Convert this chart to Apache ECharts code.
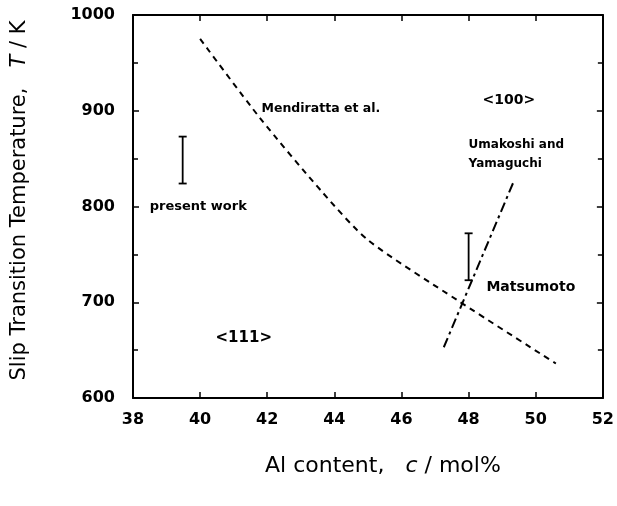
<!DOCTYPE html>
<html><head><meta charset="utf-8">
<script src="https://cdn.jsdelivr.net/npm/echarts@6/dist/echarts.min.js"></script>
<style>html,body{margin:0;padding:0;background:#fff}#c{width:617px;height:506px}</style>
</head><body><div id="c"></div>
<script>
// Data
const mendirattaX = [40.0, 41.77, 43.64, 45.0, 47.67, 50.6];
const mendirattaY = [975, 893, 815, 765, 702, 636];
const umakoshiX = [47.26, 49.33];
const umakoshiY = [653, 825];
// error bars: x, low, high
const errX = [39.48, 48.0];
const errLow = [824, 723];
const errHigh = [873, 772];
// annotations
const noteText = ['Mendiratta et al.', '<100>', 'Umakoshi and', 'Yamaguchi', 'present work', 'Matsumoto', '<111>'];
const noteX = [41.83, 49.2, 48.0, 48.0, 38.5, 48.53, 41.3];
const noteY = [902, 911, 864, 845, 800, 716, 663];
const noteAlign = ['left', 'center', 'left', 'left', 'left', 'left', 'center'];
const noteSize = [12.5, 14, 12, 12, 13, 14, 15];
const xTicks = [38, 40, 42, 44, 46, 48, 50, 52];
const yTicks = [600, 700, 800, 900, 1000];

const FONT = 'DejaVu Sans';
const chart = echarts.init(document.getElementById('c'), null, {renderer: 'canvas'});
const axisCommon = {
  axisLine: {lineStyle: {color: '#000', width: 2}},
  axisTick: {inside: true, length: 6, lineStyle: {color: '#000', width: 1.5}},
  splitLine: {show: false}
};
const mline = mendirattaX.map((x, i) => [x, mendirattaY[i]]);
const uline = umakoshiX.map((x, i) => [x, umakoshiY[i]]);
const errData = errX.map((x, i) => [x, errLow[i], errHigh[i]]);
const notes = noteText.map((t, i) => ({
  value: [noteX[i], noteY[i]],
  label: {show: true, formatter: t, align: noteAlign[i], verticalAlign: 'middle', position: 'inside',
          fontSize: noteSize[i], fontFamily: FONT, fontWeight: 'bold', color: '#000'}
}));

chart.setOption({
  animation: false,
  backgroundColor: '#fff',
  grid: {left: 133, top: 15, right: 11, bottom: 108},
  xAxis: [
    Object.assign({type: 'value', min: xTicks[0], max: xTicks[xTicks.length - 1], interval: 2,
      name: '{n|Al content,   }{i|c}{n| / mol%}', nameLocation: 'middle', nameGap: 57,
      nameTextStyle: {padding: [0, 0, 0, 30], rich: {
        n: {fontSize: 22, fontFamily: FONT, color: '#000'},
        i: {fontSize: 22, fontFamily: FONT, fontStyle: 'italic', color: '#000'}}},
      axisLabel: {margin: 14, fontSize: 16, fontWeight: 'bold', fontFamily: FONT, color: '#000',
        formatter: v => String(v)}}, axisCommon),
    Object.assign({type: 'value', position: 'top', min: 38, max: 52, interval: 2,
      axisLabel: {show: false}}, axisCommon)
  ],
  yAxis: [
    Object.assign({type: 'value', min: yTicks[0], max: yTicks[yTicks.length - 1], interval: 100,
      name: '{n|Slip Transition Temperature,   }{i|T}{n| / K}', nameLocation: 'middle', nameGap: 103,
      nameTextStyle: {padding: [0, 0, 0, 12], rich: {
        n: {fontSize: 21, fontFamily: FONT, color: '#000'},
        i: {fontSize: 21, fontFamily: FONT, fontStyle: 'italic', color: '#000'}}},
      minorTick: {show: true, splitNumber: 2, length: 5, lineStyle: {color: '#000', width: 1.5}},
      axisLabel: {margin: 18, fontSize: 16, fontWeight: 'bold', fontFamily: FONT, color: '#000',
        formatter: v => String(v)}}, axisCommon),
    Object.assign({type: 'value', position: 'right', min: 600, max: 1000, interval: 100,
      minorTick: {show: true, splitNumber: 2, length: 5, lineStyle: {color: '#000', width: 1.5}},
      axisLabel: {show: false}}, axisCommon)
  ],
  series: [
    {type: 'line', data: mline, showSymbol: false, smooth: 0.25,
     lineStyle: {color: '#000', width: 2, type: [6, 5]}},
    {type: 'line', data: uline, showSymbol: false,
     lineStyle: {color: '#000', width: 2, type: [10, 4, 3, 4]}},
    {type: 'custom', data: errData,
     renderItem: function (params, api) {
       const x = api.value(0);
       const lo = api.coord([x, api.value(1)]);
       const hi = api.coord([x, api.value(2)]);
       const w = 4;
       const st = {stroke: '#000', lineWidth: 1.8};
       return {type: 'group', children: [
         {type: 'line', shape: {x1: lo[0], y1: lo[1], x2: hi[0], y2: hi[1]}, style: st},
         {type: 'line', shape: {x1: lo[0] - w, y1: lo[1], x2: lo[0] + w, y2: lo[1]}, style: st},
         {type: 'line', shape: {x1: hi[0] - w, y1: hi[1], x2: hi[0] + w, y2: hi[1]}, style: st}
       ]};
     }},
    {type: 'scatter', data: notes, symbolSize: 0, silent: true, itemStyle: {opacity: 1}}
  ]
});
</script></body></html>
